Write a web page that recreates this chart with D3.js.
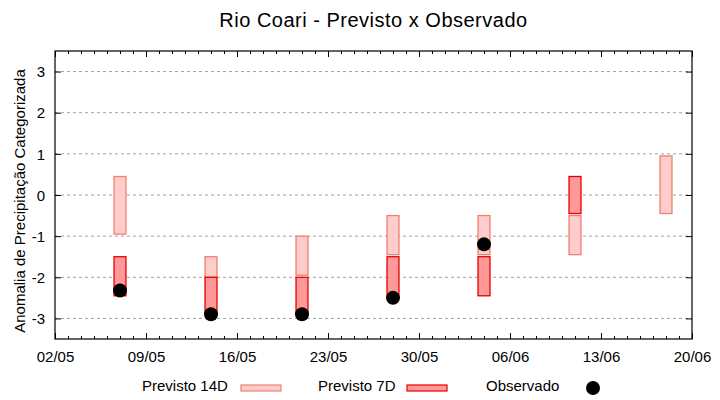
<!DOCTYPE html>
<html>
<head>
<meta charset="utf-8">
<script src="https://cdn.jsdelivr.net/npm/d3@7"></script>
<style>
  body { margin: 0; background: #fff; }
  svg { font-family: "Liberation Sans", Arial, sans-serif; }
</style>
</head>
<body>
<svg></svg>
<script>
const WIDTH = 720;
const HEIGHT = 400;
const MARGINS = { left: 55, top: 51, right: 28, bottom: 61 };
const graphWidth = WIDTH - MARGINS.left - MARGINS.right;
const graphHeight = HEIGHT - MARGINS.top - MARGINS.bottom;

// data
const dates = ['2023-05-07', '2023-05-14', '2023-05-21', '2023-05-28', '2023-06-04', '2023-06-11', '2023-06-18'];
const prev14Low = [-0.95, -2.0, -1.95, -1.45, -1.45, -1.45, -0.45];
const prev14High = [0.45, -1.5, -1.0, -0.5, -0.5, -0.5, 0.95];
const prev7Low = [-2.45, -2.9, -2.9, -2.5, -2.45, -0.45, null];
const prev7High = [-1.5, -2.0, -2.0, -1.5, -1.5, 0.45, null];
const observed = [-2.32, -2.9, -2.9, -2.5, -1.2, null, null];
const yTicks = [-3, -2, -1, 0, 1, 2, 3];
const xStart = '2023-05-02';
const xEnd = '2023-06-20';

const parse = d3.utcParse('%Y-%m-%d');
const DAY = 24 * 3600 * 1000;

const svg = d3.select('svg').attr('width', WIDTH).attr('height', HEIGHT);

const graph = svg
  .append('g')
  .attr('transform', `translate(${MARGINS.left}, ${MARGINS.top})`);

const x = d3
  .scaleUtc()
  .domain([parse(xStart), parse(xEnd)])
  .range([0, graphWidth]);
const y = d3.scaleLinear().domain([-3.5, 3.5]).range([graphHeight, 0]);

// grid
graph
  .selectAll('line.grid')
  .data(yTicks)
  .enter()
  .append('line')
  .attr('class', 'grid')
  .attr('x1', 0)
  .attr('x2', graphWidth)
  .attr('y1', (d) => y(d))
  .attr('y2', (d) => y(d))
  .attr('stroke', '#a0a0a0')
  .attr('stroke-width', 1)
  .attr('stroke-dasharray', '3,3');

// axes (gnuplot style: inward ticks, mirrored)
const weekly = [];
for (let t = +parse(xStart); t <= +parse(xEnd); t += 7 * DAY) weekly.push(new Date(t));
const daily = d3.utcDay.range(parse(xStart), d3.utcDay.offset(parse(xEnd), 1));
const fmt = d3.utcFormat('%d/%m');

const xAxisBottom = d3.axisBottom(x).tickValues(weekly).tickFormat(fmt).tickSizeInner(-6).tickSizeOuter(0).tickPadding(12);
const xAxisTop = d3.axisTop(x).tickValues(weekly).tickFormat('').tickSizeInner(-6).tickSizeOuter(0);
const xMinorBottom = d3.axisBottom(x).tickValues(daily).tickFormat('').tickSizeInner(-3).tickSizeOuter(0);
const xMinorTop = d3.axisTop(x).tickValues(daily).tickFormat('').tickSizeInner(-3).tickSizeOuter(0);
const yAxisLeft = d3.axisLeft(y).tickValues(yTicks).tickFormat((d) => String(d)).tickSizeInner(-6).tickSizeOuter(0).tickPadding(10);
const yAxisRight = d3.axisRight(y).tickValues(yTicks).tickFormat('').tickSizeInner(-6).tickSizeOuter(0);

graph.append('g').attr('transform', `translate(0, ${graphHeight})`).call(xMinorBottom);
graph.append('g').call(xMinorTop);
const xAxisGroup = graph.append('g').attr('transform', `translate(0, ${graphHeight})`).call(xAxisBottom);
graph.append('g').call(xAxisTop);
const yAxisGroup = graph.append('g').call(yAxisLeft);
graph.append('g').attr('transform', `translate(${graphWidth}, 0)`).call(yAxisRight);

svg.selectAll('.domain').remove();
svg.selectAll('.tick line').attr('stroke', '#000');
svg.selectAll('.tick text').attr('font-size', 15).attr('fill', '#000').attr('font-family', '"Liberation Sans", Arial, sans-serif');
yAxisGroup.selectAll('.tick text').attr('text-anchor', 'end').attr('dy', '0.35em');

graph
  .append('rect')
  .attr('x', 0)
  .attr('y', 0)
  .attr('width', graphWidth)
  .attr('height', graphHeight)
  .attr('fill', 'none')
  .attr('stroke', '#000')
  .attr('stroke-width', 1.2);

// bars
const rows = dates.map((d, i) => ({
  date: parse(d),
  lo14: prev14Low[i],
  hi14: prev14High[i],
  lo7: prev7Low[i],
  hi7: prev7High[i],
  obs: observed[i],
}));
const half = 0.46 * DAY;

graph
  .selectAll('rect.p14')
  .data(rows.filter((d) => d.lo14 !== null))
  .enter()
  .append('rect')
  .attr('class', 'p14')
  .attr('x', (d) => x(new Date(+d.date - half)))
  .attr('width', (d) => x(new Date(+d.date + half)) - x(new Date(+d.date - half)))
  .attr('y', (d) => y(d.hi14))
  .attr('height', (d) => y(d.lo14) - y(d.hi14))
  .attr('fill', '#ffcccc')
  .attr('stroke', '#f08070')
  .attr('stroke-width', 1.3);

graph
  .selectAll('rect.p7')
  .data(rows.filter((d) => d.lo7 !== null))
  .enter()
  .append('rect')
  .attr('class', 'p7')
  .attr('x', (d) => x(new Date(+d.date - half)))
  .attr('width', (d) => x(new Date(+d.date + half)) - x(new Date(+d.date - half)))
  .attr('y', (d) => y(d.hi7))
  .attr('height', (d) => y(d.lo7) - y(d.hi7))
  .attr('fill', '#ff9999')
  .attr('stroke', '#e80000')
  .attr('stroke-width', 1.3);

graph
  .selectAll('circle.obs')
  .data(rows.filter((d) => d.obs !== null))
  .enter()
  .append('circle')
  .attr('class', 'obs')
  .attr('cx', (d) => x(d.date))
  .attr('cy', (d) => y(d.obs))
  .attr('r', 7)
  .attr('fill', '#000');

// title and labels
svg
  .append('text')
  .attr('x', MARGINS.left + graphWidth / 2)
  .attr('y', 27)
  .attr('text-anchor', 'middle')
  .attr('font-size', 20)
  .attr('letter-spacing', 0.5)
  .text('Rio Coari - Previsto x Observado');

svg
  .append('text')
  .attr('transform', 'translate(25, 201) rotate(-90)')
  .attr('text-anchor', 'middle')
  .attr('font-size', 15)
  .text('Anomalia de Precipitação Categorizada');

// legend
const legend = svg.append('g');
const items = [
  { label: 'Previsto 14D', tx: 142, sx: 241, fill: '#ffcccc', stroke: '#f08070' },
  { label: 'Previsto 7D', tx: 318, sx: 407, fill: '#ff9999', stroke: '#e80000' },
];
items.forEach((it) => {
  legend.append('text').attr('x', it.tx).attr('y', 391).attr('font-size', 15).text(it.label);
  legend
    .append('rect')
    .attr('x', it.sx)
    .attr('y', 385)
    .attr('width', 40)
    .attr('height', 6)
    .attr('fill', it.fill)
    .attr('stroke', it.stroke)
    .attr('stroke-width', 1.2);
});
legend.append('text').attr('x', 486).attr('y', 391).attr('font-size', 15).text('Observado');
legend.append('circle').attr('cx', 593).attr('cy', 388).attr('r', 7).attr('fill', '#000');
</script>
</body>
</html>
